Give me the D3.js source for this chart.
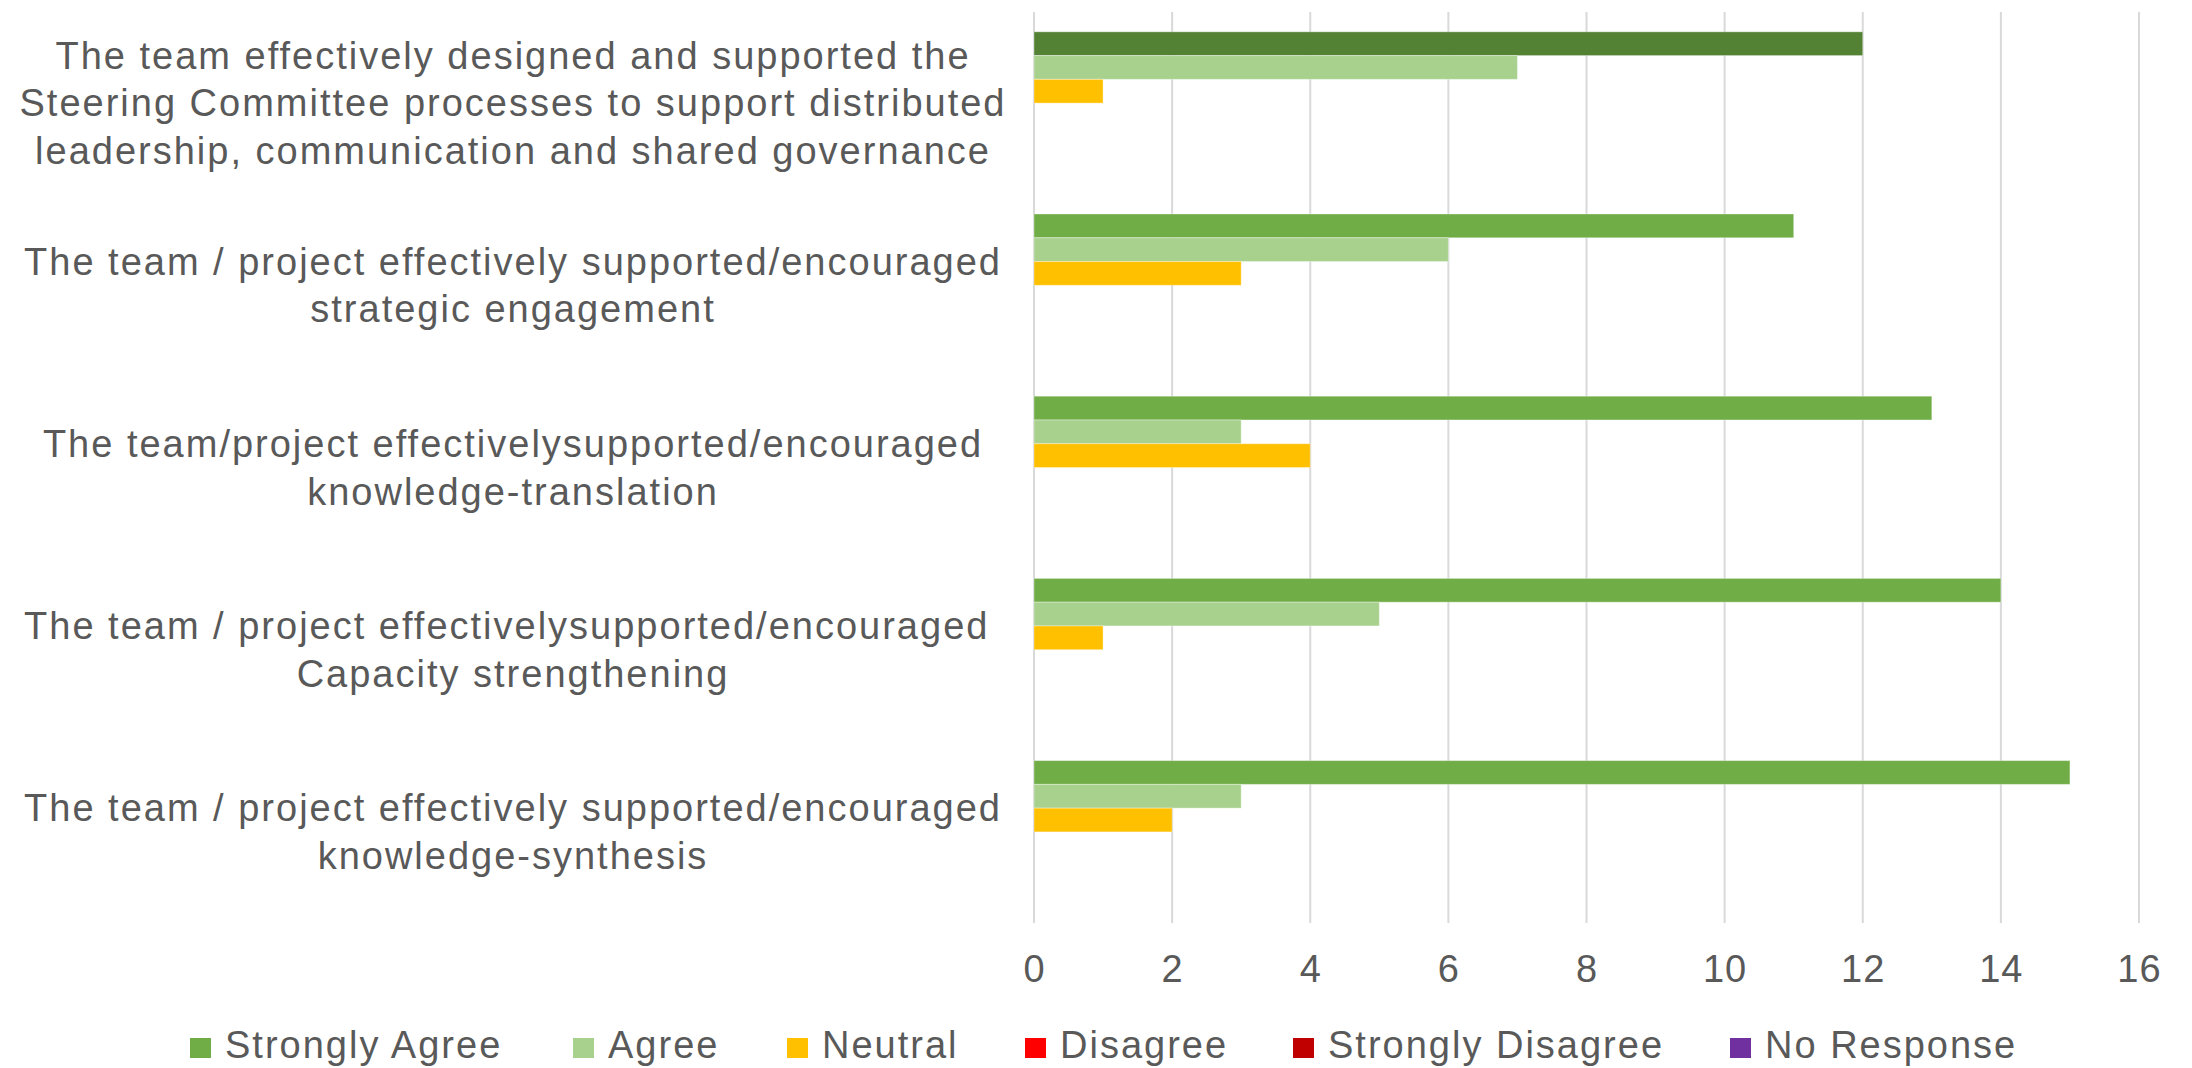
<!DOCTYPE html>
<html>
<head>
<meta charset="utf-8">
<script src="https://cdn.jsdelivr.net/npm/d3@7"></script>
<style>
	body { margin: 0; background: #fff; }
	text { font-family: "Liberation Sans", Arial, sans-serif; fill: #595959; letter-spacing: 2px; }
</style>
</head>
<body>
<div class="c-svg"></div>
<script>
//DATA
//-------------------------------------------------------------------------
const categories = [
	["The team effectively designed and supported the", "Steering Committee processes to support distributed", "leadership, communication and shared governance"],
	["The team / project effectively supported/encouraged", "strategic engagement"],
	["The team/project effectivelysupported/encouraged", "knowledge-translation"],
	["The team / project effectivelysupported/encouraged ", "Capacity strengthening"],
	["The team / project effectively supported/encouraged", "knowledge-synthesis"]
];
const series = ["Strongly Agree", "Agree", "Neutral", "Disagree", "Strongly Disagree", "No Response"];
const stronglyAgree = [12, 11, 13, 14, 15];
const agree = [7, 6, 3, 5, 3];
const neutral = [1, 3, 4, 1, 2];
const disagree = [0, 0, 0, 0, 0];
const stronglyDisagree = [0, 0, 0, 0, 0];
const noResponse = [0, 0, 0, 0, 0];
const xTicks = [0, 2, 4, 6, 8, 10, 12, 14, 16];
const colors = ["#70ad47", "#a9d18e", "#ffc000", "#ff0000", "#c00000", "#7030a0"];

const values = [stronglyAgree, agree, neutral, disagree, stronglyDisagree, noResponse];

//SVG
//-------------------------------------------------------------------------
const opts = { width: 2192, height: 1068 };
const chart = { left: 1034, right: 2139, top: 12, bottom: 923 };

const svg = d3.select(".c-svg")
	.append("svg")
	.attr("width", opts.width)
	.attr("height", opts.height);

//scales
const x = d3.scaleLinear()
	.domain([0, 16])
	.range([chart.left, chart.right]);

const y0 = d3.scaleBand()
	.domain(d3.range(categories.length))
	.range([chart.top, chart.bottom])
	.paddingInner(0.2174)
	.paddingOuter(0.1087);

const y1 = d3.scaleBand()
	.domain(series)
	.range([0, y0.bandwidth()]);

//GRID
//-------------------------------------------------------------------------
svg.append("g")
	.selectAll("line")
	.data(xTicks)
	.join("line")
	.attr("x1", d => x(d))
	.attr("x2", d => x(d))
	.attr("y1", chart.top)
	.attr("y2", chart.bottom)
	.attr("stroke", "#d9d9d9")
	.attr("stroke-width", 2);

//x axis labels
const xAxis = d3.axisBottom(x)
	.tickValues(xTicks)
	.tickSize(0)
	.tickPadding(32);

svg.append("g")
	.attr("class", "x_axis")
	.attr("transform", `translate(0 ${chart.bottom})`)
	.call(xAxis)
	.call(g => g.select(".domain").remove())
	.selectAll("text")
	.style("font-size", "38px")
	.style("font-family", "\"Liberation Sans\", Arial, sans-serif")
	.style("letter-spacing", "1px")
	.attr("fill", "#595959");

//BARS
//-------------------------------------------------------------------------
const groups = svg.append("g")
	.selectAll("g")
	.data(categories.map((c, i) => i))
	.join("g")
	.attr("transform", i => `translate(0 ${y0(i)})`);

groups.selectAll("rect")
	.data(i => series.map((s, j) => ({ s, j, i, v: values[j][i] })))
	.join("rect")
	.attr("x", x(0))
	.attr("y", d => y1(d.s))
	.attr("width", d => x(d.v) - x(0))
	.attr("height", y1.bandwidth())
	.attr("fill", d => (d.i === 0 && d.j === 0) ? "#548235" : colors[d.j])
	.attr("stroke", "#ffffff")
	.attr("stroke-opacity", 0.35)
	.attr("stroke-width", d => d.v > 0 ? 1 : 0);

//CATEGORY LABELS
//-------------------------------------------------------------------------
const lineHeight = 47.5;
svg.append("g")
	.selectAll("text")
	.data(categories)
	.join("text")
	.attr("text-anchor", "middle")
	.style("font-size", "38px")
	.attr("transform", (d, i) => `translate(513 ${y0(i) + y0.bandwidth() / 2})`)
	.each(function(lines) {
		const t = d3.select(this);
		const offset = -(lines.length - 1) / 2 * lineHeight;
		lines.forEach((line, k) => {
			t.append("tspan")
				.attr("x", 0)
				.attr("y", offset + k * lineHeight)
				.attr("dy", "0.35em")
				.text(line);
		});
	});

//LEGEND
//-------------------------------------------------------------------------
const legendX = [190, 573, 787, 1025, 1293, 1730];
const legend = svg.append("g")
	.attr("transform", "translate(0 1045)");

const items = legend.selectAll("g")
	.data(series)
	.join("g")
	.attr("transform", (d, i) => `translate(${legendX[i]} 0)`);

items.append("rect")
	.attr("x", 0)
	.attr("y", -7)
	.attr("width", 21)
	.attr("height", 20)
	.attr("fill", (d, i) => colors[i]);

items.append("text")
	.attr("x", 35)
	.attr("dy", "0.35em")
	.style("font-size", "38px")
	.text(d => d);
</script>
</body>
</html>
